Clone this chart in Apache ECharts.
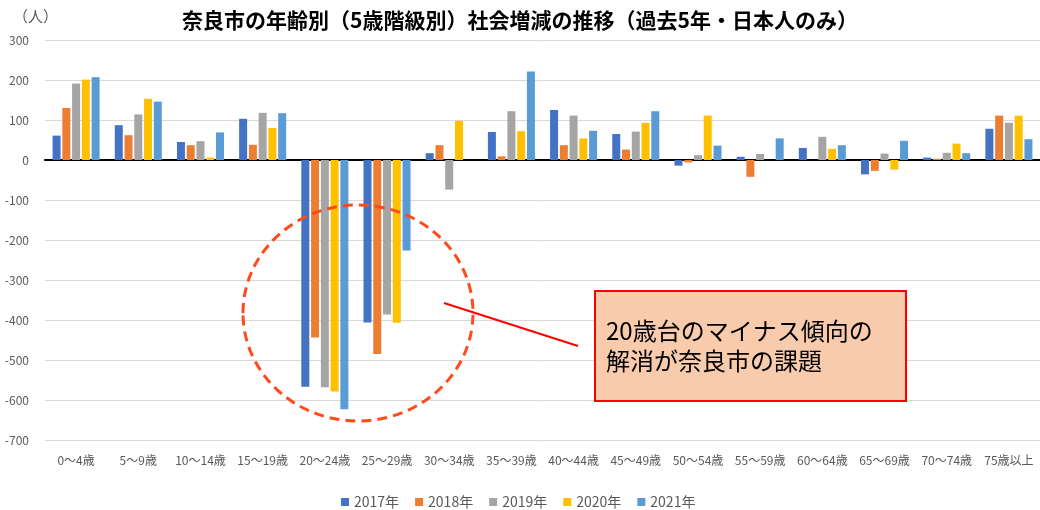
<!DOCTYPE html>
<html>
<head>
<meta charset="utf-8">
<script src="https://cdn.jsdelivr.net/npm/echarts@6/dist/echarts.min.js"></script>
<style>
html,body{margin:0;padding:0;background:#fff;}
#chart{width:1040px;height:510px;}
</style>
</head>
<body>
<div id="chart"></div>
<script>
const categories = ['0～4歳','5～9歳','10～14歳','15～19歳','20～24歳','25～29歳','30～34歳','35～39歳','40～44歳','45～49歳','50～54歳','55～59歳','60～64歳','65～69歳','70～74歳','75歳以上'];
const seriesNames = ['2017年','2018年','2019年','2020年','2021年'];
const v2017 = [61, 87, 45, 103, -567, -406, 17, 70, 125, 65, -14, 8, 30, -36, 6, 78];
const v2018 = [130, 62, 37, 38, -444, -485, 37, 9, 37, 26, -6, -42, 0, -27, 3, 111];
const v2019 = [191, 114, 47, 118, -568, -386, -74, 122, 111, 71, 12, 15, 58, 16, 18, 93];
const v2020 = [201, 153, 6, 80, -579, -407, 98, 72, 54, 93, 111, 0, 28, -24, 41, 111];
const v2021 = [207, 146, 69, 117, -623, -226, 0, 221, 73, 122, 36, 54, 37, 48, 17, 52];
const yTicks = { min: -700, max: 300, interval: 100 };
const titleText = '奈良市の年齢別（5歳階級別）社会増減の推移（過去5年・日本人のみ）';
const unitText = '（人）';
const noteLines = ['20歳台のマイナス傾向の', '解消が奈良市の課題'];

const colors = ['#4472C4','#ED7D31','#A5A5A5','#FFC000','#5B9BD5'];
const FONT = "'Noto Sans CJK JP', 'Noto Sans', sans-serif";
const allValues = [v2017, v2018, v2019, v2020, v2021];

const chart = echarts.init(document.getElementById('chart'));
chart.setOption({
  animation: false,
  color: colors,
  textStyle: { fontFamily: FONT },
  title: {
    text: titleText,
    left: 'center',
    top: 5,
    textStyle: { fontSize: 21, fontWeight: 'bold', color: '#000', fontFamily: FONT }
  },
  legend: {
    data: seriesNames,
    top: 490,
    left: 336,
    icon: 'rect',
    itemWidth: 8,
    itemHeight: 8,
    itemGap: 16,
    textStyle: { fontSize: 14, color: '#595959', fontFamily: FONT }
  },
  grid: { left: 45, top: 40, width: 998, height: 400, containLabel: false },
  xAxis: [
    {
      type: 'category',
      data: categories,
      position: 'bottom',
      axisLine: { show: false, onZero: false },
      axisTick: { show: false },
      axisLabel: { fontSize: 12, color: '#595959', margin: 14, interval: 0, fontFamily: FONT }
    },
    {
      type: 'category',
      data: categories,
      position: 'top',
      axisLine: { show: true, onZero: true, lineStyle: { color: '#000', width: 2 } },
      axisTick: { show: false },
      axisLabel: { show: false }
    }
  ],
  yAxis: {
    type: 'value',
    min: yTicks.min,
    max: yTicks.max,
    interval: yTicks.interval,
    axisLine: { show: false },
    axisTick: { show: false },
    axisLabel: { fontSize: 12, color: '#595959', margin: 16, fontFamily: FONT },
    splitLine: { lineStyle: { color: '#D9D9D9', width: 1 } }
  },
  series: seriesNames.map((name, i) => ({
    name: name,
    type: 'bar',
    xAxisIndex: 0,
    data: allValues[i],
    barWidth: 8,
    barGap: '22%',
    itemStyle: { color: colors[i] }
  })),
  graphic: [
    {
      type: 'text',
      left: 13,
      top: 9,
      style: { text: unitText, fontSize: 15, fill: '#595959', fontFamily: FONT }
    },
    {
      type: 'ellipse',
      shape: { cx: 358, cy: 313, rx: 115, ry: 108 },
      style: { fill: 'none', stroke: '#FF4A1C', lineWidth: 3, lineDash: [10, 6] },
      z: 100
    },
    {
      type: 'line',
      shape: { x1: 444, y1: 303, x2: 578, y2: 346 },
      style: { stroke: '#FF0000', lineWidth: 2 },
      z: 100
    },
    {
      type: 'rect',
      shape: { x: 595, y: 291, width: 311, height: 110 },
      style: { fill: '#F8CBAD', stroke: '#FF0000', lineWidth: 2 },
      z: 100
    },
    {
      type: 'text',
      x: 606,
      y: 331,
      style: { text: noteLines[0], fontSize: 24, fill: '#000', fontFamily: FONT, verticalAlign: 'middle' },
      z: 101
    },
    {
      type: 'text',
      x: 606,
      y: 361,
      style: { text: noteLines[1], fontSize: 24, fill: '#000', fontFamily: FONT, verticalAlign: 'middle' },
      z: 101
    }
  ]
});
</script>
</body>
</html>
